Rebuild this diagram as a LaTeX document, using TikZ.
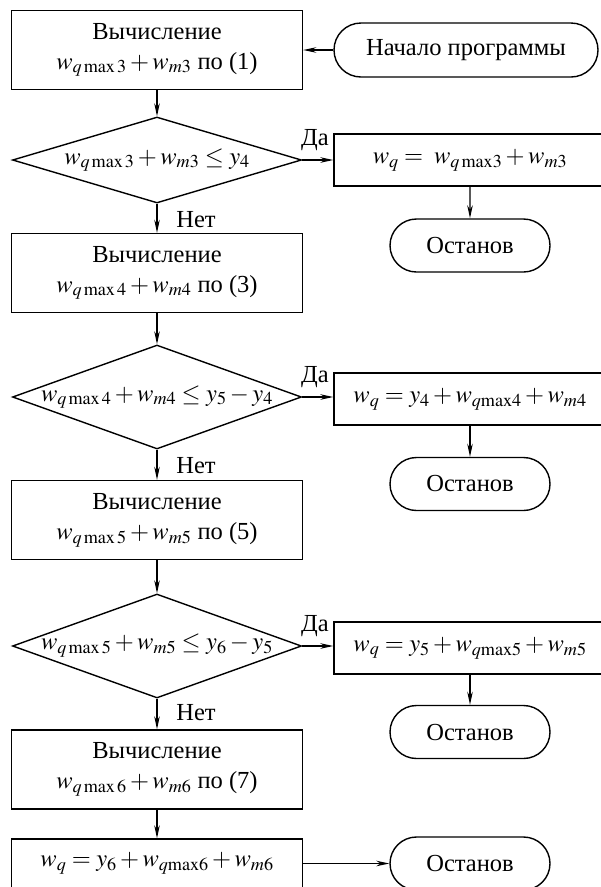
\documentclass[tikz,border=0pt]{standalone}
\usepackage{mathptmx}
\usepackage{fontspec}
\setmainfont{Liberation Serif}
\usetikzlibrary{calc,shapes,arrows.meta}

\tikzset{
	block/.style={rectangle,draw,line width=1.4pt,minimum width=291pt,minimum height=79pt,align=center,inner sep=0pt},
	result/.style={rectangle,draw,line width=1.4pt,minimum width=272pt,minimum height=52pt,inner sep=0pt},
	term/.style={rounded rectangle,draw,line width=1.4pt,minimum width=160pt,minimum height=53pt,inner sep=0pt},
	decision/.style={diamond,draw,line width=1.4pt,minimum width=289pt,minimum height=104pt,inner sep=0pt},
	flow/.style={-{Stealth[length=13pt,width=5.5pt]},line width=1.4pt},
}
\newcommand{\qmx}[1]{q\,\mathrm{max}\,#1}

\begin{document}
\begin{tikzpicture}[x=1pt,y=-1pt,font=\fontsize{24.5}{30}\selectfont]
		\useasboundingbox (0,0) rectangle (601,887);
		\node [term,minimum width=264pt,minimum height=54pt] (start) at (466,50) {Начало программы};
		\node [block] (b1) at (157,50) {Вычисление\\$w_{\qmx3}+w_{m3}$ по (1)};
		\node [decision,minimum height=86pt] (d1) at (157,160) {};
		\node (t1) at (157,160) {$w_{\qmx3}+w_{m3}\le y_4$};
		\node [result] (r1) at (470,160) {$w_q =\; w_{q\,\mathrm{max}3}+w_{m3}$};
		\node [term] (s1) at (470,245.5) {Останов};
		\node (yes1) at (315,140) {Да};
		\node (no1) at (196,220) {Нет};

		\node [block] (b2) at (157,273) {Вычисление\\$w_{\qmx4}+w_{m4}$ по (3)};
		\node [decision] (d2) at (157,397) {};
		\node (t2) at (157,397) {$w_{\qmx4}+w_{m4}\le y_5-y_4$};
		\node [result] (r2) at (470,399) {$w_q = y_4+w_{q\mathrm{max}4}+w_{m4}$};
		\node [term] (s2) at (470,484) {Останов};
		\node (yes2) at (315,377) {Да};
		\node (no2) at (196,466) {Нет};

		\node [block] (b3) at (157,520) {Вычисление\\$w_{\qmx5}+w_{m5}$ по (5)};
		\node [decision] (d3) at (157,646) {};
		\node (t3) at (157,646) {$w_{\qmx5}+w_{m5}\le y_6-y_5$};
		\node [result] (r3) at (470,648) {$w_q = y_5+w_{q\mathrm{max}5}+w_{m5}$};
		\node [term] (s3) at (470,732) {Останов};
		\node (yes3) at (315,626) {Да};
		\node (no3) at (196,713) {Нет};

		\node [block] (b4) at (157,769.5) {Вычисление\\$w_{\qmx6}+w_{m6}$ по (7)};
		\node [block,minimum height=49pt] (b5) at (157,863.5) {$w_q = y_6+w_{q\mathrm{max}6}+w_{m6}$};
		\node [term] (s4) at (470,863.5) {Останов};

		\draw [flow] (start) to (b1);
		\draw [flow] (b1) to (d1);
		\draw [flow] (d1) to (r1);
		\draw [flow] (r1) to (s1);
		\draw [flow] (d1) to (b2);
		\draw [flow] (b2) to (d2);
		\draw [flow] (d2.east) to (d2.east -| r2.west);
		\draw [flow] (r2) to (s2);
		\draw [flow] (d2) to (b3);
		\draw [flow] (b3) to (d3);
		\draw [flow] (d3.east) to (d3.east -| r3.west);
		\draw [flow] (r3) to (s3);
		\draw [flow] (d3) to (b4);
		\draw [flow] (b4) to (b5);
		\draw [flow] (b5) to (s4);
\end{tikzpicture}
\end{document}
